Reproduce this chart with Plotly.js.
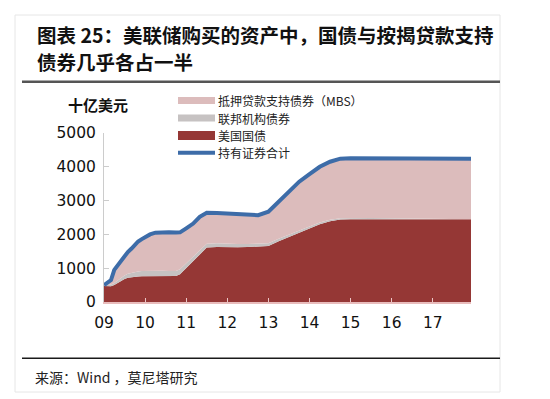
<!DOCTYPE html>
<html>
<head>
<meta charset="utf-8">
<script src="https://cdn.plot.ly/plotly-3.0.1.min.js"></script>
<style>html,body{margin:0;padding:0;background:#fff;}#chart{width:550px;height:399px;}</style>
</head>
<body>
<div id="chart"></div>
<script>
// ---- Data (decimal years, billions USD) ----
const years = [2009.0, 2009.08, 2009.17, 2009.25, 2009.33, 2009.42, 2009.5, 2009.58, 2009.67, 2009.75, 2009.83, 2009.92,
  2010.0, 2010.12, 2010.25, 2010.42, 2010.58, 2010.75, 2010.85, 2011.0, 2011.17, 2011.33, 2011.5, 2011.75,
  2012.0, 2012.25, 2012.5, 2012.75, 2013.0, 2013.25, 2013.5, 2013.75, 2014.0, 2014.25, 2014.5, 2014.75,
  2015.0, 2015.5, 2016.0, 2016.5, 2017.0, 2017.5, 2017.93];
const treasury = [475, 470, 465, 500, 560, 630, 680, 720, 740, 750, 755, 760,
  760, 760, 760, 760, 760, 770, 820, 1000, 1200, 1400, 1610, 1630,
  1620, 1620, 1625, 1640, 1660, 1800, 1930, 2060, 2180, 2300, 2390, 2440,
  2450, 2450, 2450, 2450, 2450, 2450, 2445];
const agency = [20, 30, 50, 65, 80, 95, 105, 115, 125, 135, 145, 155,
  160, 168, 169, 165, 158, 150, 148, 145, 135, 125, 115, 108,
  102, 95, 88, 80, 76, 72, 68, 60, 57, 50, 43, 40,
  38, 33, 28, 20, 10, 5, 4];
const mbs = [5, 60, 135, 385, 440, 505, 595, 645, 715, 815, 890, 945,
  1010, 1072, 1121, 1145, 1147, 1135, 1092, 1035, 985, 995, 915, 892,
  888, 895, 887, 850, 934, 1088, 1282, 1440, 1543, 1650, 1717, 1760,
  1767, 1772, 1772, 1785, 1790, 1800, 1786];
const total = [500, 560, 650, 950, 1080, 1230, 1380, 1480, 1580, 1700, 1790, 1860,
  1930, 2000, 2050, 2070, 2065, 2055, 2060, 2180, 2320, 2520, 2640, 2630,
  2610, 2610, 2600, 2570, 2670, 2960, 3280, 3560, 3780, 4000, 4150, 4240,
  4255, 4255, 4250, 4255, 4250, 4255, 4235];
const tickVals = [2009, 2010, 2011, 2012, 2013, 2014, 2015, 2016, 2017];
const tickText = ['09', '10', '11', '12', '13', '14', '15', '16', '17'];
const names = ['抵押贷款支持债券（MBS）', '联邦机构债券', '美国国债', '持有证券合计'];

// ---- Styles ----
const cMBS = '#dcbcbc', cAgency = '#c6c2c2', cTreas = '#953735', cTotal = '#3d6ca8';
const CJK = '"Noto Sans CJK SC", sans-serif';
const L = 104, R = 471, T = 133, B = 302;
const px = x => (x - L) / (R - L);
const py = y => (B - y) / (B - T);

const traces = [
  {x: years, y: treasury, name: names[2], type: 'scatter', mode: 'lines', stackgroup: 'one',
   line: {width: 0, color: cTreas}, fillcolor: cTreas, hoverinfo: 'skip', showlegend: false},
  {x: years, y: agency, name: names[1], type: 'scatter', mode: 'lines', stackgroup: 'one',
   line: {width: 0, color: cAgency}, fillcolor: cAgency, hoverinfo: 'skip', showlegend: false},
  {x: years, y: mbs, name: names[0], type: 'scatter', mode: 'lines', stackgroup: 'one',
   line: {width: 0, color: cMBS}, fillcolor: cMBS, hoverinfo: 'skip', showlegend: false},
  {x: years, y: total, name: names[3], type: 'scatter', mode: 'lines',
   line: {width: 4, color: cTotal}, hoverinfo: 'skip', showlegend: false}
];

// manual legend
const legFont = 12;
const legGap = 17.4;
const legCenter = 126.7;
const legRows = [0, 1, 2, 3].map(i => legCenter + (i - 1.5) * legGap);
const legColors = [cMBS, cAgency, cTreas, cTotal];
const shapes = [
  {type: 'rect', xref: 'paper', yref: 'paper', x0: px(15), x1: px(500), y0: py(392), y1: py(15),
   line: {color: '#e6e6e6', width: 1}, fillcolor: 'rgba(0,0,0,0)', layer: 'below'},
  {type: 'line', xref: 'paper', yref: 'paper', x0: px(22), x1: px(500), y0: py(81.7), y1: py(81.7),
   line: {color: '#555555', width: 2.5}},
  {type: 'line', xref: 'paper', yref: 'paper', x0: px(22), x1: px(500), y0: py(358.3), y1: py(358.3),
   line: {color: '#1a1a1a', width: 1.5}}
];
const annotations = [
  {xref: 'paper', yref: 'paper', x: px(35), y: py(35), xanchor: 'left', yanchor: 'middle', showarrow: false,
   text: '图表 25：美联储购买的资产中，国债与按揭贷款支持', font: {family: CJK, size: 19.5, color: '#111', weight: 'bold'}},
  {xref: 'paper', yref: 'paper', x: px(35), y: py(61), xanchor: 'left', yanchor: 'middle', showarrow: false,
   text: '债券几乎各占一半', font: {family: CJK, size: 19.5, color: '#111', weight: 'bold'}},
  {xref: 'paper', yref: 'paper', x: px(97.5), y: py(104.3), xanchor: 'center', yanchor: 'middle', showarrow: false,
   text: '十亿美元', font: {family: CJK, size: 15, color: '#111', weight: 'bold'}},
  {xref: 'paper', yref: 'paper', x: px(33), y: py(377), xanchor: 'left', yanchor: 'middle', showarrow: false,
   text: '来源：Wind ，莫尼塔研究', font: {family: CJK, size: 14, color: '#222'}}
];
for (let i = 0; i < 4; i++) {
  const yc = legRows[i];
  if (i < 3) {
    const h = i === 2 ? 9 : 7;
    shapes.push({type: 'rect', xref: 'paper', yref: 'paper', x0: px(178), x1: px(215),
      y0: py(yc + h / 2), y1: py(yc - h / 2), line: {width: 0}, fillcolor: legColors[i]});
  } else {
    shapes.push({type: 'line', xref: 'paper', yref: 'paper', x0: px(178), x1: px(215),
      y0: py(yc), y1: py(yc), line: {width: 4, color: legColors[i]}});
  }
  annotations.push({xref: 'paper', yref: 'paper', x: px(217), y: py(yc), xanchor: 'left', yanchor: 'middle',
    showarrow: false, borderpad: 0, text: names[i], font: {family: CJK, size: legFont, color: '#222'}});
}

const layout = {
  width: 550, height: 399,
  margin: {l: L, r: 550 - R, t: T, b: 399 - B, pad: 0},
  paper_bgcolor: '#ffffff', plot_bgcolor: '#ffffff',
  showlegend: false,
  xaxis: {range: [2009, 2017.93], tickvals: tickVals, ticktext: tickText, showgrid: false, zeroline: false,
    showline: true, linecolor: '#e8bcbc', linewidth: 1.5, ticks: 'inside', ticklen: 4, tickcolor: '#ecc6c6', tickwidth: 1,
    tickfont: {family: 'DejaVu Sans', size: 15.5, color: '#111'}, ticklabelstandoff: 6, fixedrange: true},
  yaxis: {range: [0, 5000], tickvals: [0, 1000, 2000, 3000, 4000, 5000], showgrid: false, zeroline: false,
    showline: true, linecolor: '#cccccc', linewidth: 1, ticks: 'inside', ticklen: 5, tickcolor: '#cccccc',
    tickfont: {family: 'DejaVu Sans', size: 15.5, color: '#111'}, ticklabelstandoff: 4, fixedrange: true},
  shapes: shapes,
  annotations: annotations
};

Plotly.newPlot('chart', traces, layout, {staticPlot: true, displayModeBar: false});
</script>
</body>
</html>
